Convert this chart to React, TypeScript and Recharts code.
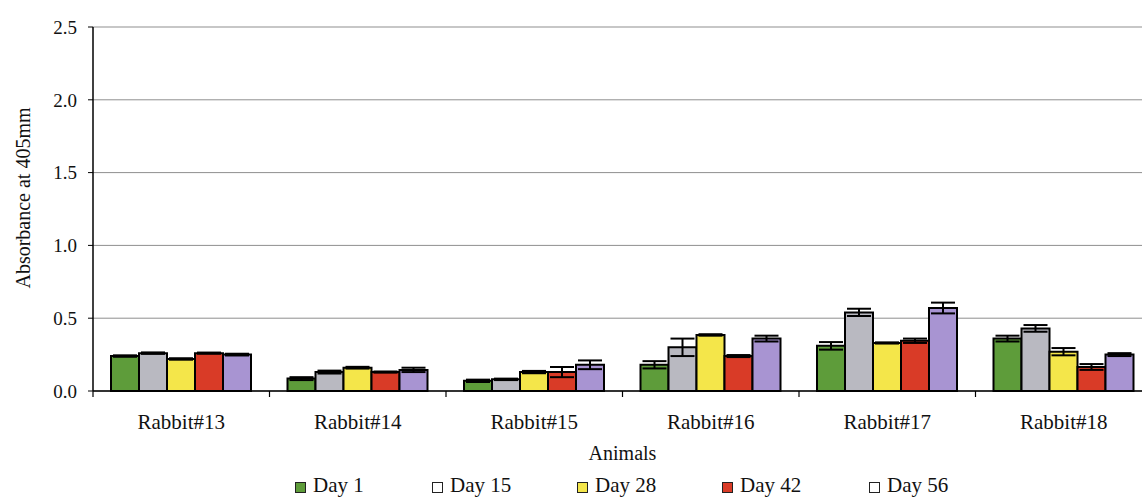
import React from 'react';
import { Bar, BarChart, CartesianGrid, ErrorBar, XAxis, YAxis } from 'recharts';

const FONT = "'Liberation Serif', Tinos, 'DejaVu Serif', serif";

const categories = ['Rabbit#13', 'Rabbit#14', 'Rabbit#15', 'Rabbit#16', 'Rabbit#17', 'Rabbit#18'];
const day1 = [0.24, 0.085, 0.07, 0.18, 0.31, 0.36];
const day15 = [0.26, 0.13, 0.08, 0.3, 0.54, 0.43];
const day28 = [0.22, 0.16, 0.13, 0.385, 0.33, 0.27];
const day42 = [0.26, 0.13, 0.13, 0.24, 0.345, 0.165];
const day56 = [0.25, 0.145, 0.18, 0.36, 0.57, 0.25];
const err1 = [0.005, 0.01, 0.008, 0.025, 0.026, 0.02];
const err15 = [0.005, 0.01, 0.005, 0.06, 0.025, 0.023];
const err28 = [0.005, 0.006, 0.008, 0.005, 0.004, 0.025];
const err42 = [0.004, 0.004, 0.035, 0.007, 0.015, 0.02];
const err56 = [0.006, 0.015, 0.03, 0.02, 0.037, 0.01];
const yTicks = [0, 0.5, 1, 1.5, 2, 2.5];

const series = [
  { key: 'd1', name: 'Day 1', values: day1, errors: err1, color: '#5e9c3a', legend: '#5e9c3a' },
  { key: 'd15', name: 'Day 15', values: day15, errors: err15, color: '#b9b9c1', legend: '#ffffff' },
  { key: 'd28', name: 'Day 28', values: day28, errors: err28, color: '#f4e64a', legend: '#f4e64a' },
  { key: 'd42', name: 'Day 42', values: day42, errors: err42, color: '#d93b27', legend: '#d93b27' },
  { key: 'd56', name: 'Day 56', values: day56, errors: err56, color: '#a894d2', legend: '#ffffff' },
];

const data = categories.map((name, i) => {
  const row: Record<string, string | number> = { name };
  series.forEach(s => {
    row[s.key] = s.values[i];
    row[s.key + 'Err'] = s.errors[i];
  });
  return row;
});

const legendWidths = [137, 145, 145, 147, 90];

function CategoryTick(props: any) {
  const { x, y, payload } = props;
  const off = payload?.offset ?? 87.5;
  return (
    <g>
      <line x1={x - off} x2={x - off} y1={y} y2={y + 6} stroke="#000" strokeWidth={1.2} />
      <text x={x} y={y + 38} textAnchor="middle" fontFamily={FONT} fontSize={21} fill="#111">
        {payload.value}
      </text>
    </g>
  );
}

export default function App() {
  return (
    <div style={{ position: 'absolute', left: 0, top: 0, width: 1142, height: 497, overflow: 'hidden', background: '#fff' }}>
      <BarChart
        width={1152}
        height={497}
        data={data}
        margin={{ top: 27, right: 0, bottom: 34, left: 0 }}
        barCategoryGap={18}
        barGap={0}
      >
        <CartesianGrid vertical={false} stroke="#8f8f8f" strokeWidth={1} />
        <XAxis
          dataKey="name"
          height={72}
          axisLine={{ stroke: '#000', strokeWidth: 1.5 }}
          tickLine={false}
          tickSize={0}
          tickMargin={0}
          interval={0}
          tick={<CategoryTick />}
          label={{ value: 'Animals', position: 'insideBottom', offset: 3, fontFamily: FONT, fontSize: 20, fill: '#111' }}
        />
        <YAxis
          width={93}
          domain={[0, 2.5]}
          ticks={yTicks}
          interval={0}
          tickFormatter={(v: number) => v.toFixed(1)}
          axisLine={{ stroke: '#000', strokeWidth: 1.5 }}
          tickLine={{ stroke: '#000' }}
          tickSize={5}
          tickMargin={11}
          tick={{ fontFamily: FONT, fontSize: 19, fill: '#111' }}
          label={() => (
            <text transform="translate(30,198) rotate(-90)" textAnchor="middle" fontFamily={FONT} fontSize={20} fill="#111">
              Absorbance at 405mm
            </text>
          )}
        />
        {series.map(s => (
          <Bar key={s.key} dataKey={s.key} name={s.name} fill={s.color} stroke="#000" strokeWidth={2} isAnimationActive={false}>
            <ErrorBar dataKey={s.key + 'Err'} width={12} stroke="#000" strokeWidth={2} isAnimationActive={false} />
          </Bar>
        ))}
      </BarChart>
      <div style={{ position: 'absolute', left: 295, top: 473, display: 'flex', fontFamily: FONT, fontSize: 21, color: '#111' }}>
        {series.map((s, i) => (
          <div key={s.key} style={{ width: legendWidths[i], display: 'flex', alignItems: 'center' }}>
            <span style={{ display: 'inline-block', width: 9, height: 9, background: s.legend, border: '1.5px solid #222', marginRight: 7, marginTop: 3 }} />
            <span>{s.name}</span>
          </div>
        ))}
      </div>
    </div>
  );
}
